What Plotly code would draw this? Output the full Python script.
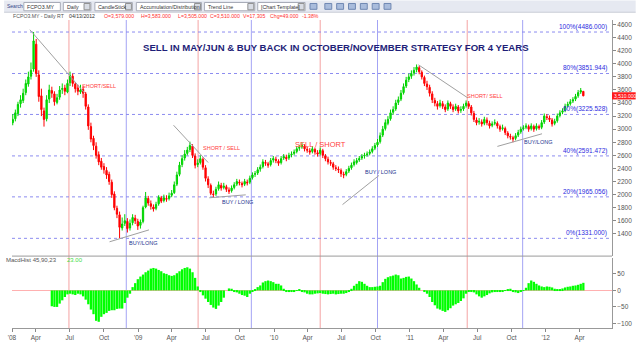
import plotly.graph_objects as go
import pandas as pd

# ---------------- data (weekly) ----------------
opens = [3100,3160,3240,3390,3440,3560,3690,3810,3920,4300,
         3830,3510,3280,3160,3460,3590,3540,3410,3490,3610,
         3630,3570,3710,3810,3690,3630,3570,3610,3540,3340,
         3040,2860,2740,2610,2510,2430,2370,2310,2190,2010,
         1790,1690,1490,1560,1590,1490,1570,1640,1590,1530,
         1590,1810,1940,1860,1810,1790,1860,1950,1910,1940,
         1940,1990,2030,2160,2310,2460,2560,2630,2690,2740,
         2590,2460,2490,2540,2410,2240,2140,2010,2010,2090,
         2140,2110,2120,2070,2060,2110,2160,2190,2170,2160,
         2190,2190,2260,2310,2330,2390,2430,2490,2470,2460,
         2530,2540,2510,2490,2560,2570,2560,2610,2630,2660,
         2710,2730,2740,2690,2670,2660,2690,2640,2630,2670,
         2590,2540,2490,2470,2410,2390,2370,2310,2310,2360,
         2410,2460,2490,2530,2560,2590,2610,2630,2660,2710,
         2760,2810,2910,3010,3090,3160,3260,3310,3410,3460,
         3560,3660,3760,3810,3860,3910,3940,3870,3790,3690,
         3640,3540,3440,3390,3360,3390,3340,3310,3390,3340,
         3310,3340,3290,3310,3360,3390,3340,3240,3140,3110,
         3110,3090,3140,3090,3060,3090,3090,3040,3010,3010,
         2940,2890,2870,2860,2910,2960,3010,3030,3040,3010,
         3040,3010,3040,3030,3110,3190,3170,3140,3090,3130,
         3210,3260,3290,3360,3390,3430,3460,3510,3570,3579]
highs = [3230,3300,3420,3520,3620,3760,3880,4020,4486,4380,
         3900,3620,3330,3520,3680,3650,3580,3540,3660,3700,
         3680,3760,3880,3850,3720,3680,3680,3660,3570,3380,
         3100,2900,2800,2660,2560,2480,2420,2350,2230,2050,
         1830,1740,1650,1700,1640,1620,1700,1690,1630,1620,
         1830,2040,1980,1910,1850,1890,1990,1980,2000,1990,
         2030,2070,2200,2350,2500,2600,2680,2730,2810,2770,
         2630,2540,2600,2570,2450,2280,2170,2060,2120,2200,
         2180,2180,2150,2110,2140,2190,2240,2230,2200,2240,
         2230,2290,2340,2360,2420,2460,2540,2530,2500,2560,
         2590,2580,2540,2590,2620,2610,2640,2660,2690,2740,
         2760,2800,2770,2730,2710,2740,2720,2680,2720,2700,
         2620,2580,2530,2500,2450,2430,2400,2350,2390,2440,
         2490,2540,2560,2590,2620,2640,2660,2690,2740,2790,
         2850,2950,3050,3150,3200,3300,3350,3450,3500,3600,
         3700,3800,3850,3900,3950,3990,3970,3900,3820,3740,
         3680,3580,3480,3430,3450,3430,3380,3440,3420,3380,
         3390,3370,3350,3390,3440,3430,3370,3280,3180,3170,
         3150,3190,3180,3130,3120,3150,3120,3070,3070,3040,
         2970,2930,2900,2940,2990,3040,3060,3090,3070,3090,
         3070,3090,3070,3140,3240,3230,3210,3170,3160,3240,
         3290,3320,3390,3420,3460,3490,3540,3600,3630,3583]
lows = [3060,3120,3200,3330,3400,3520,3650,3760,3880,3800,
        3420,3200,3040,3120,3400,3480,3360,3380,3450,3540,
        3520,3550,3660,3650,3560,3520,3540,3480,3300,2990,
        2800,2680,2550,2450,2380,2320,2240,2150,1950,1760,
        1640,1331,1450,1520,1420,1450,1530,1550,1460,1480,
        1560,1790,1830,1770,1740,1760,1830,1870,1880,1890,
        1910,1960,2010,2130,2280,2420,2520,2600,2650,2560,
        2400,2420,2460,2380,2200,2100,1990,1950,1980,2060,
        2060,2080,2040,2010,2030,2080,2130,2140,2110,2130,
        2140,2160,2230,2270,2300,2350,2400,2440,2410,2430,
        2490,2480,2440,2460,2530,2510,2530,2570,2600,2630,
        2670,2700,2660,2640,2610,2630,2610,2580,2600,2560,
        2510,2460,2440,2380,2360,2330,2270,2250,2280,2330,
        2380,2430,2460,2500,2530,2550,2580,2600,2630,2680,
        2730,2780,2880,2980,3060,3130,3220,3280,3370,3430,
        3530,3630,3720,3770,3820,3870,3840,3760,3660,3600,
        3500,3400,3350,3300,3330,3310,3260,3280,3310,3260,
        3280,3240,3250,3280,3330,3310,3210,3110,3060,3070,
        3040,3060,3060,3010,3030,3060,3010,2960,2980,2910,
        2860,2840,2800,2830,2880,2930,2980,3000,2960,2980,
        2960,2980,2990,3000,3080,3140,3110,3040,3060,3100,
        3180,3230,3260,3330,3360,3400,3430,3480,3540,3505]
closes = [3150,3250,3380,3450,3550,3700,3800,3900,4350,3850,
          3500,3300,3150,3450,3600,3550,3420,3480,3600,3620,
          3580,3700,3820,3700,3620,3580,3600,3550,3350,3050,
          2850,2750,2600,2500,2420,2380,2300,2200,2000,1800,
          1700,1500,1550,1600,1480,1560,1650,1600,1520,1580,
          1800,1950,1870,1820,1780,1850,1960,1900,1950,1930,
          1980,2020,2150,2300,2450,2550,2620,2680,2750,2600,
          2450,2480,2550,2420,2250,2150,2020,2000,2080,2150,
          2100,2130,2080,2050,2100,2150,2200,2180,2150,2200,
          2180,2250,2300,2320,2380,2420,2500,2480,2450,2520,
          2550,2520,2480,2550,2580,2550,2600,2620,2650,2700,
          2720,2750,2700,2680,2650,2700,2650,2620,2680,2600,
          2550,2500,2480,2420,2400,2380,2320,2300,2350,2400,
          2450,2500,2520,2550,2580,2600,2620,2650,2700,2750,
          2800,2900,3000,3100,3150,3250,3300,3400,3450,3550,
          3650,3750,3800,3850,3900,3950,3880,3800,3700,3650,
          3550,3450,3400,3350,3400,3350,3300,3400,3350,3300,
          3350,3280,3300,3350,3400,3350,3250,3150,3100,3120,
          3080,3150,3100,3050,3080,3100,3050,3000,3020,2950,
          2900,2880,2850,2900,2950,3000,3020,3050,3000,3050,
          3000,3050,3020,3100,3200,3180,3150,3080,3120,3200,
          3250,3280,3350,3380,3420,3450,3500,3560,3590,3510]
first_week = "2008-01-30"

macd_first = 15
macd_hist = [-48,-50,-50,-40,-30,-20,-12,-10,-12,-14,-10,-12,-18,-28,-42,
             -58,-72,-92,-95,-80,-72,-68,-62,-60,-60,-56,-55,-55,-38,-22,
             -10,10,22,34,42,48,55,60,66,68,66,62,58,52,50,
             46,44,46,52,58,64,68,70,66,55,38,12,-5,-15,-25,
             -35,-44,-52,-56,-46,-35,-22,0,6,5,-2,-6,-10,-14,-16,
             -20,-10,-3,4,10,15,24,28,30,28,25,20,20,15,5,
             -2,-5,-3,-2,-1,2,-2,-6,-10,-12,-12,-10,-9,-8,-10,
             -11,-12,-11,-10,-12,-11,-10,-10,-8,-4,5,14,20,28,26,
             20,14,10,10,11,12,14,25,35,40,43,45,48,46,36,
             38,41,42,36,28,18,8,0,-4,-10,-20,-35,-45,-55,-58,
             -62,-65,-60,-54,-46,-42,-38,-32,-24,-10,-2,-2,-6,-12,-18,
             -22,-18,-14,-9,-6,-5,-3,-3,-2,1,3,5,-2,-6,-8,
             -5,-1,8,22,30,26,20,15,12,10,12,11,9,5,3,
             2,6,9,11,12,14,15,17,20,23]

fib_levels = [4486.0, 3851.944, 3225.528, 2591.472, 1965.056, 1331.0]
fib_labels = ["100%(4486.000)", "80%(3851.944)", "60%(3225.528)",
              "40%(2591.472)", "20%(1965.056)", "0%(1331.000)"]

sell_dates = ["2008-06-29", "2009-06-11", "2010-05-05", "2011-06-04"]
buy_dates = ["2008-11-30", "2009-11-01", "2010-10-06", "2011-10-31"]

trend_start_dates = ["2008-03-16", "2008-10-16", "2009-04-06", "2009-07-11", "2010-07-04", "2011-01-24", "2011-08-24"]
trend_start_prices = [4521, 1278, 3061, 1951, 1847, 3985, 2737]
trend_end_dates = ["2008-08-10", "2009-01-30", "2009-07-08", "2009-10-17", "2010-10-10", "2011-06-05", "2011-12-22"]
trend_end_prices = [3555, 1460, 2490, 1996, 2293, 3481, 2930]

signal_texts = ["SHORT/SELL", "BUY/LONG", "SHORT / SELL", "BUY / LONG",
                "SELL / SHORT", "BUY / LONG", "SHORT/ SELL", "BUY/LONG"]
signal_dates = ["2008-09-18", "2009-01-13", "2009-08-13", "2009-09-26",
                "2010-05-07", "2010-10-15", "2011-07-22", "2011-12-11"]
signal_prices = [3668, 1267, 2709, 1891, 2768, 2352, 3511, 2798]
signal_kind = ["sell", "buy", "sell", "buy", "sell", "buy", "sell", "buy"]

price_ticks = [1400, 1600, 1800, 2000, 2200, 2400, 2600, 2800, 3000, 3200,
               3400, 3600, 3800, 4000, 4200, 4400, 4600]
macd_ticks = [50, 0, -50, -100]
tick_dates = ["2008-01-28", "2008-04-01", "2008-07-01", "2008-10-01",
              "2009-01-01", "2009-04-01", "2009-07-01", "2009-10-01",
              "2010-01-01", "2010-04-01", "2010-07-01", "2010-10-01",
              "2011-01-01", "2011-04-01", "2011-07-01", "2011-10-01",
              "2012-01-01", "2012-04-01"]
tick_text = ["'08", "Apr", "Jul", "Oct", "'09", "Apr", "Jul", "Oct",
             "'10", "Apr", "Jul", "Oct", "'11", "Apr", "Jul", "Oct",
             "'12", "Apr"]

last_close = 3510.0
header_parts = [("FCPO3.MY - Daily RT", "#555555"), ("04/13/2012", "#333333"),
                ("O=3,579.000", "#ff3030"), ("H=3,583.000", "#ff3030"),
                ("L=3,505.000", "#ff3030"), ("C=3,510.000", "#ff3030"),
                ("V=17,305", "#ff3030"), ("Chg=49.000", "#ff3030"), ("-1.38%", "#ff3030")]
title_text = "SELL IN MAY/JUN & BUY BACK IN OCTOBER/NOVEMBER STRATEGY FOR 4 YEARS"

# ---------------- geometry helpers (layout only) ----------------
W, H = 640, 350
ML, MR, MT, MB = 8, 24, 20, 13
def px(x):
    return (x - ML) / (W - ML - MR)
def py(y):
    return (H - MB - y) / (H - MT - MB)

FONT = "Liberation Sans, Arial, sans-serif"

week_dates = pd.date_range(first_week, periods=len(closes), freq="7D")
macd_dates = week_dates[macd_first:macd_first + len(macd_hist)]

fig = go.Figure()

fig.add_trace(go.Candlestick(
    x=week_dates, open=opens, high=highs, low=lows, close=closes,
    increasing=dict(line=dict(color="#00d000", width=1), fillcolor="#00ff00"),
    decreasing=dict(line=dict(color="#ff0000", width=1), fillcolor="#ff0000"),
    whiskerwidth=0, showlegend=False, xaxis="x", yaxis="y"))

for d0, p0, d1, p1 in zip(trend_start_dates, trend_start_prices, trend_end_dates, trend_end_prices):
    fig.add_trace(go.Scatter(x=[d0, d1], y=[p0, p1], mode="lines",
                             line=dict(color="#a0a0a0", width=1),
                             showlegend=False, xaxis="x", yaxis="y", hoverinfo="skip"))

fig.add_trace(go.Bar(x=macd_dates, y=macd_hist, marker=dict(color="#00ff00", line=dict(width=0)),
                     showlegend=False, xaxis="x", yaxis="y2"))

shapes = []
annotations = []

# toolbar band
shapes.append(dict(type="rect", xref="paper", yref="paper", x0=px(0), x1=px(640), y0=py(12), y1=py(0),
                   fillcolor="#e6e9f1", line=dict(width=0), layer="below"))
shapes.append(dict(type="line", xref="paper", yref="paper", x0=px(0), x1=px(640), y0=py(12), y1=py(12),
                   line=dict(color="#c8ccd6", width=1)))
toolbar = [("FCPO3.MY", 20, 57, False), ("Daily", 60, 88, True), ("CandleStick", 92, 130, True),
           ("Accumulation/Distribution", 134, 200, True), ("Trend Line", 203, 254, True),
           ("[Chart Template]", 257, 305, True)]
annotations.append(dict(text="Search", xref="paper", yref="paper", x=px(1), y=py(6), xanchor="left",
                        yanchor="middle", showarrow=False, font=dict(size=5, color="#334488", family=FONT)))
for label, x0, x1, dd in toolbar:
    shapes.append(dict(type="rect", xref="paper", yref="paper", x0=px(x0), x1=px(x1), y0=py(10.5), y1=py(2),
                       fillcolor="#ffffff", line=dict(color="#a8acb8", width=1)))
    if dd:
        shapes.append(dict(type="rect", xref="paper", yref="paper", x0=px(x1 - 7), x1=px(x1 - 1), y0=py(9.5), y1=py(3),
                           fillcolor="#d8dce4", line=dict(color="#909090", width=1)))
    annotations.append(dict(text=label, xref="paper", yref="paper", x=px(x0 + 1.5), y=py(6.3), xanchor="left",
                            yanchor="middle", showarrow=False, font=dict(size=5.3, color="#333333", family=FONT)))
for ix in [310, 325, 337, 349, 361, 373, 385]:
    shapes.append(dict(type="rect", xref="paper", yref="paper", x0=px(ix), x1=px(ix + 7), y0=py(9), y1=py(3),
                       fillcolor="#a9bcdc", line=dict(color="#7088b2", width=1)))

# header line
hx = [7, 64, 99, 137, 174, 207, 240, 267, 300]
for (txt, col), x in zip(header_parts, hx):
    annotations.append(dict(text=txt, xref="paper", yref="paper", x=px(x), y=py(15.5), xanchor="left",
                            yanchor="middle", showarrow=False, font=dict(size=5.2, color=col, family=FONT)))

# title
annotations.append(dict(text="<b>" + title_text + "</b>", xref="paper", yref="paper", x=px(336.5), y=py(48),
                        xanchor="center", yanchor="middle", showarrow=False,
                        font=dict(size=9.6, color="#1e1e78", family=FONT)))

# vertical season lines
for d in sell_dates:
    shapes.append(dict(type="line", xref="x", yref="paper", x0=d, x1=d, y0=0, y1=1,
                       line=dict(color="#f4a3a3", width=1), layer="below"))
for d in buy_dates:
    shapes.append(dict(type="line", xref="x", yref="paper", x0=d, x1=d, y0=0, y1=1,
                       line=dict(color="#a3a3f4", width=1), layer="below"))

# fibonacci levels
for lv, lb in zip(fib_levels, fib_labels):
    shapes.append(dict(type="line", xref="paper", yref="y", x0=0, x1=1, y0=lv, y1=lv,
                       line=dict(color="#8c8cf0", width=1, dash="dot"), layer="below"))
    annotations.append(dict(text=lb, xref="paper", yref="y", x=px(612.5), y=lv, xanchor="right",
                            yanchor="bottom", yshift=-1, showarrow=False,
                            font=dict(size=6.5, color="#2c2ce0", family=FONT)))

# signal labels
for t, d, p, k in zip(signal_texts, signal_dates, signal_prices, signal_kind):
    big = (t == "SELL / SHORT")
    annotations.append(dict(text=t, xref="x", yref="y", x=d, y=p, xanchor="center", yanchor="middle",
                            showarrow=False,
                            font=dict(size=7.5 if big else 5.5, family=FONT,
                                      color="#ff4040" if k == "sell" else "#23358f")))

# panel separator
shapes.append(dict(type="line", xref="paper", yref="paper", x0=0, x1=1, y0=py(263), y1=py(263),
                   line=dict(color="#9a9a9a", width=1)))

# macd label
annotations.append(dict(text="MacdHist 45,90,23", xref="paper", yref="paper", x=px(0), y=py(267.5),
                        xanchor="left", yanchor="middle", showarrow=False,
                        font=dict(size=6, color="#555555", family=FONT)))
annotations.append(dict(text="23.00", xref="paper", yref="paper", x=px(62), y=py(267.5),
                        xanchor="left", yanchor="middle", showarrow=False,
                        font=dict(size=6, color="#44dd44", family=FONT)))

# last price tag
shapes.append(dict(type="rect", xref="paper", yref="y", x0=1.0, x1=px(640), y0=last_close - 55, y1=last_close + 55,
                   fillcolor="#ff1a1a", line=dict(width=0)))
annotations.append(dict(text=f"{last_close:,.3f}", xref="paper", yref="y", x=px(616.5), y=last_close,
                        xanchor="left", yanchor="middle", showarrow=False,
                        font=dict(size=5, color="#ffffff", family=FONT)))

axis_font = dict(size=6.5, color="#555555", family=FONT)
fig.update_layout(
    width=W, height=H, margin=dict(l=ML, r=MR, t=MT, b=MB),
    paper_bgcolor="white", plot_bgcolor="white", bargap=0.12,
    shapes=shapes, annotations=annotations, showlegend=False,
    xaxis=dict(type="date", range=["2008-01-28", "2012-06-27"], anchor="y2", domain=[0, 1],
               tickvals=tick_dates, ticktext=tick_text, tickfont=axis_font,
               ticks="outside", ticklen=3, tickcolor="#888888", showline=True, linecolor="#999999",
               showgrid=False, zeroline=False, rangeslider=dict(visible=False)),
    yaxis=dict(domain=[py(263), 1], range=[1059.3, 4670], side="right", anchor="x",
               tickvals=price_ticks, tickfont=axis_font, ticks="outside", ticklen=3, tickcolor="#888888",
               showline=True, linecolor="#999999", showgrid=False, zeroline=False),
    yaxis2=dict(domain=[0, py(265)], range=[-113.8, 98], side="right", anchor="x",
                tickvals=macd_ticks, tickfont=axis_font, ticks="outside", ticklen=3, tickcolor="#888888",
                showline=True, linecolor="#999999", showgrid=False,
                zeroline=True, zerolinecolor="#ffb0b0", zerolinewidth=1),
)

fig.write_html("out.html")
